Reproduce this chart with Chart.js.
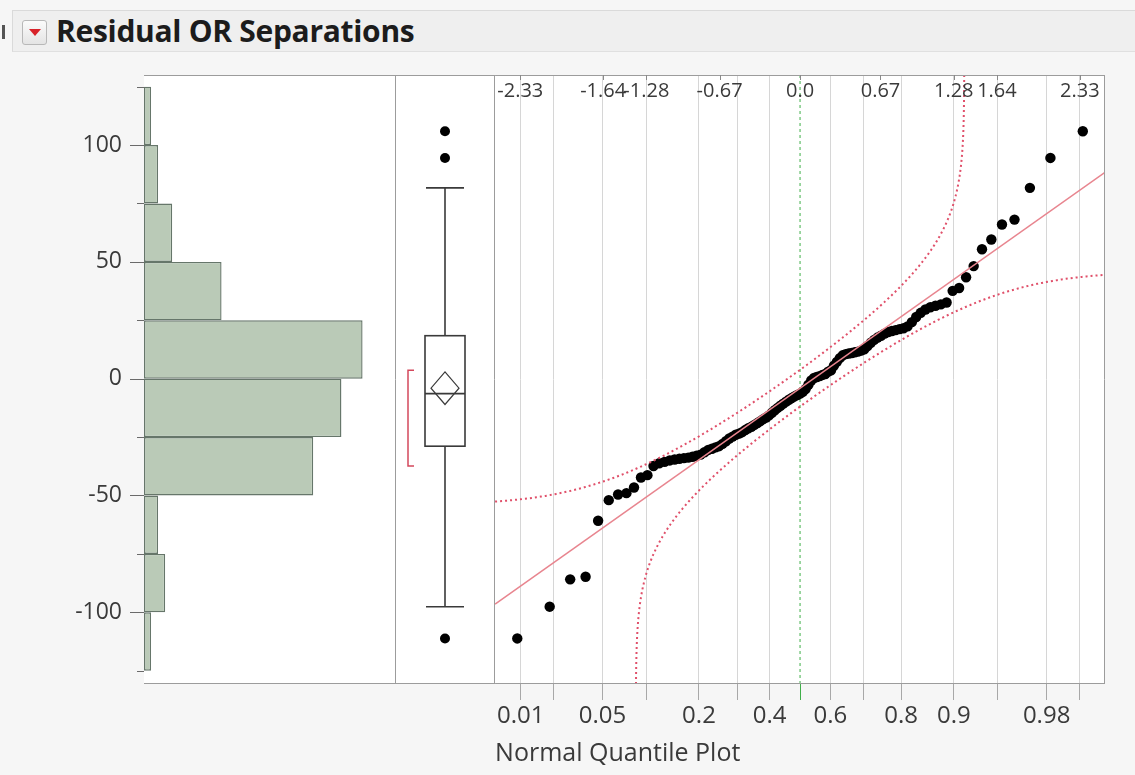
<!DOCTYPE html>
<html>
<head>
<meta charset="utf-8">
<title>Residual OR Separations</title>
<script src="https://cdn.jsdelivr.net/npm/chart.js@4.4.1/dist/chart.umd.min.js"></script>
<style>
  html, body { margin: 0; padding: 0; }
  body { width: 1135px; height: 775px; background: #f6f6f6; position: relative; overflow: hidden;
         font-family: "Open Sans", "DejaVu Sans", sans-serif; }
  #hdr { position: absolute; left: 12px; top: 10px; width: 1123px; height: 40px; background: #efefef;
         border-top: 1px solid #dadada; border-left: 1px solid #dadada; border-bottom: 1px solid #e0e0e0; }
  #hdrMark { position: absolute; left: 2px; top: 25px; width: 3px; height: 14px; background: #555; }
  #btn { position: absolute; left: 22px; top: 20px; width: 25px; height: 25px; box-sizing: border-box;
         border: 1px solid #b8b8b8; border-radius: 3px; background: linear-gradient(#fbfbfb, #e4e4e4); }
  #btn::after { content: ""; position: absolute; left: 6px; top: 8px; border-left: 6px solid transparent;
                border-right: 6px solid transparent; border-top: 7px solid #d8232a; }
  #title { position: absolute; left: 56px; top: 11px; height: 40px; line-height: 40px; font-size: 30px;
           font-weight: 700; color: #1c1c1c; white-space: nowrap; letter-spacing: -0.3px; }
  canvas { position: absolute; top: 0; }
</style>
</head>
<body>
<div id="hdr"></div>
<div id="hdrMark"></div>
<div id="btn"></div>
<div id="title">Residual OR Separations</div>
<canvas id="hist" width="396" height="775" style="left:0px"></canvas>
<canvas id="box" width="100" height="775" style="left:395px"></canvas>
<canvas id="nq" width="640" height="775" style="left:495px"></canvas>

<script>
// ---- residuals, sorted ascending ----
const residuals = [
  -111.2, -97.6, -85.9, -84.8, -60.8, -52.0,
  -49.6, -49.0, -46.6, -42.3, -41.3, -37.4, -36.2, -35.6, -35.0, -34.6, -34.3, -34.0,
  -33.8, -33.4, -33.0, -32.5, -31.5, -30.5, -30.0, -29.4, -28.9, -27.9, -26.8, -25.6,
  -24.8, -24.0, -23.5, -22.9, -22.0, -21.2, -20.6, -19.8, -19.0, -18.2, -17.3, -16.6,
  -15.7, -14.6, -13.5, -12.5, -11.6, -10.7, -9.8, -9.0, -8.3, -7.6, -7.0, -6.4,
  -5.6, -4.4, -2.6, -0.8,
  0.3, 0.7, 1.1, 1.6, 2.0, 3.0, 3.6, 5.6, 7.2, 8.8, 10.0, 10.5, 10.8, 11.0, 11.3, 11.6,
  12.0, 12.6, 14.0, 15.4, 16.6, 17.6, 18.4, 19.3, 20.0, 20.4, 20.8, 21.2, 21.6, 22.4, 24.2,
  26.4, 28.2, 29.6, 30.6, 31.2, 31.8, 32.6, 37.6, 38.8, 43.4, 48.2,
  55.4, 59.6, 66.0, 68.1,
  81.7, 94.5,
  105.9
];

// histogram bin edges
const binEdges = [-125, -100, -75, -50, -25, 0, 25, 50, 75, 100, 125];
// labelled values on the residual axis
const yTickValues = [-100, -50, 0, 50, 100];
// probability ticks along the bottom of the quantile plot
const probTicks  = [0.01, 0.02, 0.05, 0.1, 0.2, 0.3, 0.4, 0.5, 0.6, 0.7, 0.8, 0.9, 0.95, 0.98, 0.99];
const probLabels = ['0.01', '', '0.05', '', '0.2', '', '0.4', '', '0.6', '', '0.8', '0.9', '', '0.98', ''];
// normal quantile ticks along the top of the quantile plot
const quantileTicks  = [-2.33, -1.64, -1.28, -0.67, 0, 0.67, 1.28, 1.64, 2.33];
const quantileLabels = ['-2.33', '-1.64', '-1.28', '-0.67', '0.0', '0.67', '1.28', '1.64', '2.33'];

// ---- layout / scale constants ----
const Y_MIN = -130.7, Y_MAX = 130;
const Q_MIN = -2.54, Q_MAX = 2.54;
const COUNT_MAX = 35.6;
const PLOT_TOP = 75, PLOT_BOTTOM = 684, PAGE_H = 775;
const FONT = '"Open Sans", "DejaVu Sans", sans-serif';
const TEXT = '#3a3a3a';
const FRAME = '#9c9c9c';

// ---- normal distribution helpers ----
function normInv(p) {
  const a = [-3.969683028665376e+01, 2.209460984245205e+02, -2.759285104469687e+02, 1.383577518672690e+02, -3.066479806614716e+01, 2.506628277459239e+00];
  const b = [-5.447609879822406e+01, 1.615858368580409e+02, -1.556989798598866e+02, 6.680131188771972e+01, -1.328068155288572e+01];
  const c = [-7.784894002430293e-03, -3.223964580411365e-01, -2.400758277161838e+00, -2.549732539343734e+00, 4.374664141464968e+00, 2.938163982698783e+00];
  const d = [7.784695709041462e-03, 3.224671290700398e-01, 2.445134137142996e+00, 3.754408661907416e+00];
  const pl = 0.02425, ph = 1 - pl;
  let q, r;
  if (p < pl) {
    q = Math.sqrt(-2 * Math.log(p));
    return (((((c[0]*q + c[1])*q + c[2])*q + c[3])*q + c[4])*q + c[5]) / ((((d[0]*q + d[1])*q + d[2])*q + d[3])*q + 1);
  }
  if (p <= ph) {
    q = p - 0.5; r = q * q;
    return (((((a[0]*r + a[1])*r + a[2])*r + a[3])*r + a[4])*r + a[5])*q / (((((b[0]*r + b[1])*r + b[2])*r + b[3])*r + b[4])*r + 1);
  }
  q = Math.sqrt(-2 * Math.log(1 - p));
  return -(((((c[0]*q + c[1])*q + c[2])*q + c[3])*q + c[4])*q + c[5]) / ((((d[0]*q + d[1])*q + d[2])*q + d[3])*q + 1);
}
function normCdf(x) {
  const t = 1 / (1 + 0.2316419 * Math.abs(x));
  const dens = 0.3989422804014327 * Math.exp(-x * x / 2);
  const p = dens * t * (0.319381530 + t * (-0.356563782 + t * (1.781477937 + t * (-1.821255978 + t * 1.330274429))));
  return x > 0 ? 1 - p : p;
}

// ---- summary statistics ----
const n = residuals.length;
const mean = residuals.reduce((s, v) => s + v, 0) / n;
const sd = Math.sqrt(residuals.reduce((s, v) => s + (v - mean) ** 2, 0) / (n - 1));
function quantile(p) {
  const pos = p * (n + 1), lo = Math.floor(pos), fr = pos - lo;
  if (lo < 1) return residuals[0];
  if (lo >= n) return residuals[n - 1];
  return residuals[lo - 1] + fr * (residuals[lo] - residuals[lo - 1]);
}
const q1 = quantile(0.25), median = quantile(0.5), q3 = quantile(0.75);
const iqr = q3 - q1;
const upperFence = q3 + 1.5 * iqr, lowerFence = q1 - 1.5 * iqr;
const whiskerHi = Math.max(...residuals.filter(v => v <= upperFence));
const whiskerLo = Math.min(...residuals.filter(v => v >= lowerFence));
const outliers = residuals.filter(v => v > upperFence || v < lowerFence);
const ciHalf = 1.9826 * sd / Math.sqrt(n);
// shortest interval holding half of the observations
let shortLo = residuals[0], shortHi = residuals[n - 1];
{
  const k = Math.ceil(n / 2);
  for (let i = 0; i + k - 1 < n; i++) {
    if (residuals[i + k - 1] - residuals[i] < shortHi - shortLo) { shortLo = residuals[i]; shortHi = residuals[i + k - 1]; }
  }
}
const lillieforsD = 0.886 / Math.sqrt(n);

// ---- histogram counts ----
const binCenters = binEdges.slice(0, -1).map((lo, k) => (lo + binEdges[k + 1]) / 2);
const binCounts = binEdges.slice(0, -1).map((lo, k) => residuals.filter(v => v >= lo && (v < binEdges[k + 1] || (k === binEdges.length - 2 && v <= binEdges[k + 1]))).length);
const binPx = (binEdges[1] - binEdges[0]) / (Y_MAX - Y_MIN) * (PLOT_BOTTOM - PLOT_TOP);

// ---- shared plugins ----
const whiteArea = {
  id: 'whiteArea',
  beforeDraw(chart) {
    const { ctx, chartArea: a } = chart;
    ctx.save(); ctx.fillStyle = '#ffffff';
    ctx.fillRect(a.left, a.top, a.right - a.left, a.bottom - a.top);
    ctx.restore();
  }
};
function frameLines(sides) {
  return {
    id: 'frameLines',
    afterDraw(chart) {
      const { ctx, chartArea: a } = chart;
      ctx.save(); ctx.strokeStyle = FRAME; ctx.lineWidth = 1;
      ctx.beginPath();
      if (sides.includes('top'))    { ctx.moveTo(a.left, a.top + 0.5); ctx.lineTo(a.right, a.top + 0.5); }
      if (sides.includes('bottom')) { ctx.moveTo(a.left, a.bottom - 0.5); ctx.lineTo(a.right, a.bottom - 0.5); }
      if (sides.includes('left'))   { ctx.moveTo(a.left + 0.5, a.top); ctx.lineTo(a.left + 0.5, a.bottom); }
      if (sides.includes('right'))  { ctx.moveTo(a.right - 0.5, a.top); ctx.lineTo(a.right - 0.5, a.bottom); }
      ctx.stroke(); ctx.restore();
    }
  };
}
const baseOpts = {
  responsive: false, animation: false, devicePixelRatio: 1,
  plugins: { legend: { display: false }, tooltip: { enabled: false } }
};

// ---- histogram (horizontal bars on the residual axis) ----
const yAxisTicks = {
  id: 'yAxisTicks',
  afterDraw(chart) {
    const { ctx, chartArea: a } = chart;
    const y = chart.scales.y;
    ctx.save(); ctx.strokeStyle = '#6a6a6a'; ctx.lineWidth = 1;
    ctx.beginPath();
    binEdges.forEach(v => {
      const py = Math.round(y.getPixelForValue(v)) + 0.5;
      const len = yTickValues.includes(v) ? 14 : 7;
      ctx.moveTo(a.left - len, py); ctx.lineTo(a.left, py);
    });
    yTickValues.forEach(v => {
      const py = Math.round(y.getPixelForValue(v)) + 0.5;
      ctx.moveTo(a.left - 14, py); ctx.lineTo(a.left, py);
    });
    ctx.stroke(); ctx.restore();
  }
};
new Chart(document.getElementById('hist'), {
  type: 'bar',
  data: {
    datasets: [{
      data: binCenters.map((c, k) => ({ x: binCounts[k], y: c })),
      backgroundColor: '#bacab7',
      borderColor: '#66766a',
      borderWidth: 1.4,
      borderSkipped: false,
      barThickness: binPx,
      inflateAmount: 0
    }]
  },
  options: {
    ...baseOpts,
    indexAxis: 'y',
    layout: { autoPadding: false, padding: { top: PLOT_TOP, bottom: PAGE_H - PLOT_BOTTOM, left: 0, right: 1 } },
    scales: {
      x: { type: 'linear', min: 0, max: COUNT_MAX, display: false },
      y: {
        type: 'linear', min: Y_MIN, max: Y_MAX, offset: false,
        afterFit(s) { s.width = 144; },
        afterBuildTicks(s) { s.ticks = yTickValues.map(v => ({ value: v })); },
        grid: { display: false, drawTicks: false, offset: false },
        border: { display: false },
        ticks: { padding: 22, color: TEXT, font: { family: FONT, size: 23 } }
      }
    }
  },
  plugins: [whiteArea, frameLines(['top', 'bottom']), yAxisTicks]
});

// ---- box plot ----
const boxDraw = {
  id: 'boxDraw',
  beforeDatasetsDraw(chart) {
    const { ctx } = chart;
    const y = chart.scales.y, x = chart.scales.x;
    const cx = x.getPixelForValue(50);
    const py = v => y.getPixelForValue(v);
    ctx.save();
    ctx.strokeStyle = '#3a3a3a'; ctx.lineWidth = 1.6;
    // box
    ctx.strokeRect(cx - 20, py(q3), 40, py(q1) - py(q3));
    ctx.beginPath();
    // median
    ctx.moveTo(cx - 20, py(median)); ctx.lineTo(cx + 20, py(median));
    // whiskers
    ctx.moveTo(cx, py(q3)); ctx.lineTo(cx, py(whiskerHi));
    ctx.moveTo(cx - 19, py(whiskerHi)); ctx.lineTo(cx + 19, py(whiskerHi));
    ctx.moveTo(cx, py(q1)); ctx.lineTo(cx, py(whiskerLo));
    ctx.moveTo(cx - 19, py(whiskerLo)); ctx.lineTo(cx + 19, py(whiskerLo));
    ctx.stroke();
    // mean diamond
    ctx.beginPath();
    ctx.moveTo(cx, py(mean + ciHalf));
    ctx.lineTo(cx + 14, py(mean));
    ctx.lineTo(cx, py(mean - ciHalf));
    ctx.lineTo(cx - 14, py(mean));
    ctx.closePath();
    ctx.lineWidth = 1.2;
    ctx.stroke();
    // shortest half bracket
    const bx = x.getPixelForValue(13);
    ctx.strokeStyle = '#d4485c'; ctx.lineWidth = 1.5;
    ctx.beginPath();
    ctx.moveTo(bx + 6, py(shortHi)); ctx.lineTo(bx, py(shortHi));
    ctx.lineTo(bx, py(shortLo)); ctx.lineTo(bx + 6, py(shortLo));
    ctx.stroke();
    ctx.restore();
  }
};
new Chart(document.getElementById('box'), {
  type: 'scatter',
  data: {
    datasets: [{
      data: outliers.map(v => ({ x: 50, y: v })),
      pointRadius: 5, pointBackgroundColor: '#000', pointBorderColor: '#000', pointBorderWidth: 0
    }]
  },
  options: {
    ...baseOpts,
    layout: { autoPadding: false, padding: { top: PLOT_TOP, bottom: PAGE_H - PLOT_BOTTOM, left: 0, right: 0 } },
    scales: {
      x: { type: 'linear', min: 0, max: 100, display: false },
      y: { type: 'linear', min: Y_MIN, max: Y_MAX, display: false }
    }
  },
  plugins: [whiteArea, frameLines(['top', 'bottom', 'left', 'right']), boxDraw]
});

// ---- normal quantile plot ----
const nqPoints = residuals.map((v, i) => ({ x: normInv((i + 1) / (n + 1)), y: v }));
const fitLine = [{ x: Q_MIN, y: mean + sd * Q_MIN }, { x: Q_MAX, y: mean + sd * Q_MAX }];
function bandCurve(sign) {
  const zTop = (Y_MAX - mean) / sd, zBot = (Y_MIN - mean) / sd;
  let start = Q_MIN, end = Q_MAX;
  if (sign > 0) end = Math.min(Q_MAX, normInv(normCdf(zTop) - lillieforsD));
  else start = Math.max(Q_MIN, normInv(normCdf(zBot) + lillieforsD));
  const pts = [];
  const steps = 400;
  for (let k = 0; k <= steps; k++) {
    const t = k / steps;
    // denser sampling toward the steep end of the band
    const u = sign > 0 ? 1 - (1 - t) * (1 - t) : t * t;
    const q = start + (end - start) * u;
    const p = Math.min(Math.max(normCdf(q) + sign * lillieforsD, 1e-9), 1 - 1e-9);
    pts.push({ x: q, y: mean + sd * normInv(p) });
  }
  return pts;
}
const topAxis = {
  id: 'topAxis',
  afterDraw(chart) {
    const { ctx, chartArea: a } = chart;
    const x = chart.scales.x;
    ctx.save();
    ctx.strokeStyle = '#8a8a8a'; ctx.lineWidth = 1;
    ctx.beginPath();
    quantileTicks.forEach(v => {
      const px = Math.round(x.getPixelForValue(v)) + 0.5;
      ctx.moveTo(px, a.top); ctx.lineTo(px, a.top + 5);
    });
    ctx.stroke();
    ctx.fillStyle = TEXT;
    ctx.font = '20px ' + FONT;
    ctx.textAlign = 'center'; ctx.textBaseline = 'middle';
    quantileTicks.forEach((v, k) => ctx.fillText(quantileLabels[k], x.getPixelForValue(v), a.top + 16));
    ctx.restore();
  }
};
const isCentre = ctx => ctx.tick && Math.abs(ctx.tick.value) < 1e-6;
new Chart(document.getElementById('nq'), {
  type: 'scatter',
  data: {
    datasets: [
      { data: [{ x: 0, y: Y_MIN }, { x: 0, y: Y_MAX }], showLine: true, pointRadius: 0,
        borderColor: '#3fae49', borderWidth: 1, borderDash: [3, 3], order: 5 },
      { data: nqPoints, pointRadius: 5.2, pointBackgroundColor: '#000', pointBorderColor: '#000',
        pointBorderWidth: 0, order: 4 },
      { data: fitLine, showLine: true, pointRadius: 0, borderColor: '#e8858f', borderWidth: 1.5, order: 2 },
      { data: bandCurve(1), showLine: true, pointRadius: 0, borderColor: '#e0506a', borderWidth: 2,
        borderDash: [2, 3], order: 1 },
      { data: bandCurve(-1), showLine: true, pointRadius: 0, borderColor: '#e0506a', borderWidth: 2,
        borderDash: [2, 3], order: 1 }
    ]
  },
  options: {
    ...baseOpts,
    layout: { autoPadding: false, padding: { top: PLOT_TOP, bottom: 0, left: 0, right: 30 } },
    scales: {
      x: {
        type: 'linear', min: Q_MIN, max: Q_MAX,
        afterBuildTicks(s) { s.ticks = probTicks.map(p => ({ value: normInv(p) })); },
        afterFit(s) { s.height = PAGE_H - PLOT_BOTTOM; },
        grid: {
          color: c => isCentre(c) ? 'rgba(0,0,0,0)' : '#d6d6d6',
          tickColor: c => isCentre(c) ? '#3fae49' : '#a8a8a8',
          tickLength: 16, lineWidth: 1
        },
        border: { display: false },
        ticks: {
          autoSkip: false, maxRotation: 0, padding: 2, color: TEXT,
          font: { family: FONT, size: 24 },
          callback: (v, k) => probLabels[k]
        },
        title: { display: true, text: 'Normal Quantile Plot', align: 'start', color: TEXT,
                 font: { family: FONT, size: 25 }, padding: { top: 0, bottom: 6 } }
      },
      y: { type: 'linear', min: Y_MIN, max: Y_MAX, display: false }
    }
  },
  plugins: [whiteArea, frameLines(['top', 'bottom', 'right']), topAxis]
});
</script>
</body>
</html>
